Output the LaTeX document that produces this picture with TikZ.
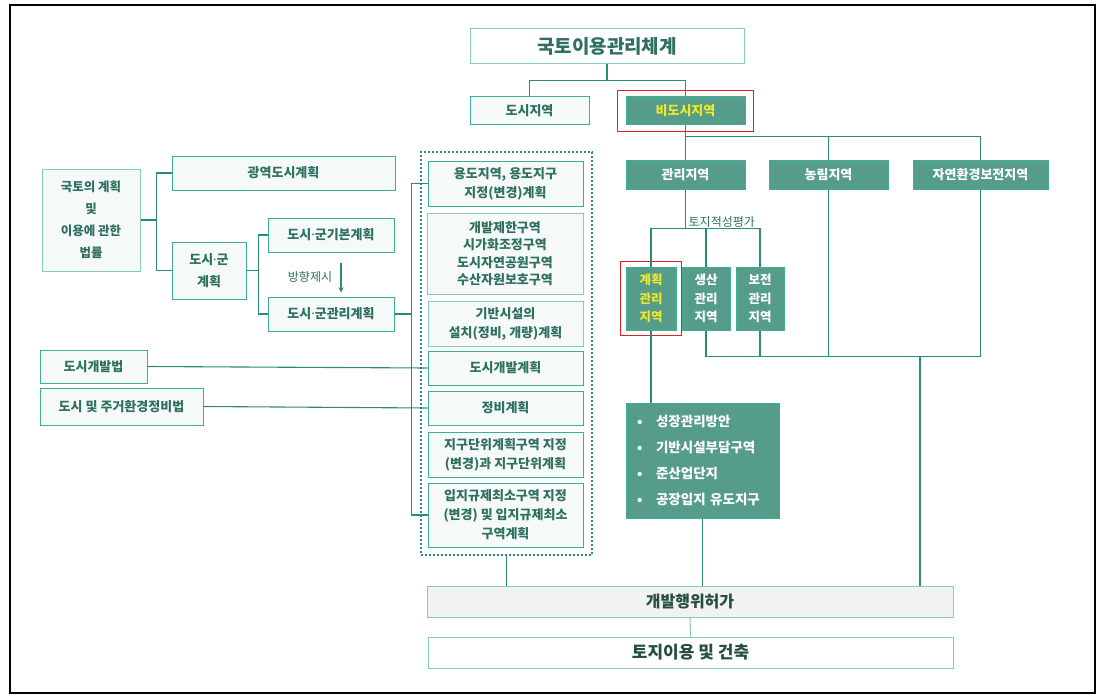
\documentclass[tikz,border=0pt]{standalone}
\usepackage{fontspec}
\setmainfont{Noto Sans CJK KR}
\newfontfamily\latinf{Noto Sans}
\usepackage{tikz}
\usetikzlibrary{arrows,positioning,fit}
\usepackage{xcolor}
\definecolor{kdark}{RGB}{86,156,138}
\definecolor{klight}{RGB}{245,249,248}
\definecolor{kedge}{RGB}{62,174,148}
\definecolor{ksoft}{RGB}{130,205,188}
\definecolor{ktext}{RGB}{47,112,96}
\definecolor{kdeep}{RGB}{38,78,66}
\definecolor{kline}{RGB}{40,140,120}
\definecolor{kgray}{RGB}{242,242,242}
\definecolor{kyellow}{RGB}{240,232,40}
\definecolor{kred}{RGB}{232,30,30}
\newcommand{\mdot}{{\latinf ·}}
\tikzstyle{conn} = [draw=kline, line width=1.1pt]
\tikzstyle{arrow} = [line width=1.3pt,->,>=stealth,color=kline]
\tikzstyle{lightbox} = [draw=kedge, fill=klight, text=ktext, line width=1pt, inner sep=0pt, align=center, font=\bfseries\fontsize{13}{19}\selectfont]
\tikzstyle{darkbox} = [draw=kedge, fill=kdark, text=white, line width=1pt, inner sep=0pt, align=center, font=\bfseries\fontsize{13}{19}\selectfont]
\tikzstyle{redframe} = [draw=kred, line width=1.8pt, inner sep=0pt]
\tikzstyle{lbl} = [text=ktext, inner sep=1pt, font=\fontsize{12}{14}\selectfont]

\begin{document}
\begin{tikzpicture}[x=1pt, y=-1pt]
\useasboundingbox (0,0) rectangle (1100,698);
\draw[black, line width=1.3pt] (10,5) rectangle (1095,693);

% Top of the hierarchy
\node[lightbox, fill=white, draw=ksoft, minimum width=274pt, minimum height=35pt, font=\bfseries\fontsize{19}{22}\selectfont] (title) at (607,46.5) {국토이용관리체계};
\node[lightbox, minimum width=119pt, minimum height=28pt] (dosi) at (529.5,111) {도시지역};
\node[darkbox, text=kyellow, minimum width=119pt, minimum height=28pt] (bidosi) at (685.5,111) {비도시지역};
\node[redframe, fit=(bidosi), inner xsep=8pt, inner ysep=6pt] (bidosiframe) {};

\draw[conn] (title.south) -- ++(0,16) coordinate (tj) -| (dosi.north);
\draw[conn] (tj) -| (bidosi.north);

% Non-urban zones
\node[darkbox, minimum width=119pt, minimum height=29pt] (gwanri) at (685.5,174.5) {관리지역};
\node[darkbox, minimum width=119pt, minimum height=29pt] (nongrim) at (828.5,174.5) {농림지역};
\node[darkbox, minimum width=135pt, minimum height=29pt] (jayeon) at (980.5,174.5) {자연환경보전지역};

\draw[conn] (bidosi.south) -- ++(0,11) coordinate (bj) -| (jayeon.north);
\draw[conn] (bj) -- (gwanri.north);
\draw[conn] (nongrim.north) -- (nongrim.north |- bj);

% Management sub-zones
\node[darkbox, text=kyellow, minimum width=50pt, minimum height=63pt, font=\bfseries\fontsize{12.5}{18.5}\selectfont] (gyehoek) at (651,298.5) {계획\\관리\\지역};
\node[redframe, fit=(gyehoek), inner xsep=5pt, inner ysep=5pt] (gyehoekframe) {};
\node[darkbox, minimum width=48pt, minimum height=63pt, font=\bfseries\fontsize{12.5}{18.5}\selectfont] (saengsan) at (706,298.5) {생산\\관리\\지역};
\node[darkbox, minimum width=48pt, minimum height=63pt, font=\bfseries\fontsize{12.5}{18.5}\selectfont] (bojeon) at (760,298.5) {보전\\관리\\지역};

\draw[conn] (gwanri.south) -- ++(0,39) coordinate (gj);
\draw[conn] (gyehoek.north) |- (gj) -| (bojeon.north);
\draw[conn] (saengsan.north) -- (saengsan.north |- gj);
\node[lbl, anchor=south west] (suitlbl) at ([xshift=2pt]gj) {토지적성평가};

\draw[conn] (saengsan.south) -- ++(0,26) coordinate (sj) -| (jayeon.south);
\draw[conn] (bojeon.south) -- (bojeon.south |- sj);
\draw[conn] (nongrim.south) -- (nongrim.south |- sj);

% Planned management tools
\node[darkbox, align=left, text width=131pt, inner xsep=11pt, minimum height=115pt, font=\bfseries\fontsize{13.5}{26}\selectfont] (bullets) at (702.5,460.5) {\makebox[19pt][l]{•}성장관리방안\\\makebox[19pt][l]{•}기반시설부담구역\\\makebox[19pt][l]{•}준산업단지\\\makebox[19pt][l]{•}공장입지 유도지구};
\draw[conn] (gyehoek.south) -- (gyehoek.south |- bullets.north);

% Urban management plan contents
\node[draw=kline, line width=2.4pt, dash pattern=on 2.4pt off 1.6pt, minimum width=171pt, minimum height=403pt] (zonebox) at (506.5,353.5) {};
\node[lightbox, minimum width=155pt, minimum height=45pt] (yongdo) at (505.5,183.5) {용도지역, 용도지구\\지정(변경)계획};
\node[lightbox, draw=ksoft, minimum width=156pt, minimum height=81pt, font=\bfseries\fontsize{13}{17.5}\selectfont] (gaebal) at (505,253.5) {개발제한구역\\시가화조정구역\\도시자연공원구역\\수산자원보호구역};
\node[lightbox, draw=ksoft, minimum width=155pt, minimum height=45pt] (gibansi) at (505.5,323.5) {기반시설의\\설치(정비, 개량)계획};
\node[lightbox, minimum width=155pt, minimum height=34pt] (dogae) at (505.5,368) {도시개발계획};
\node[lightbox, minimum width=155pt, minimum height=34pt] (jeongbi) at (505.5,408) {정비계획};
\node[lightbox, minimum width=155pt, minimum height=45pt] (jigu) at (505.5,454.5) {지구단위계획구역 지정\\(변경)과 지구단위계획};
\node[lightbox, minimum width=155pt, minimum height=64pt] (ipji) at (505.5,515) {입지규제최소구역 지정\\(변경) 및 입지규제최소\\구역계획};

% Laws and plans on the left
\node[lightbox, draw=ksoft, minimum width=98pt, minimum height=102pt, font=\bfseries\fontsize{12.5}{22}\selectfont] (law) at (91,220) {국토의 계획\\및\\이용에 관한\\법률};
\node[lightbox, minimum width=223pt, minimum height=34pt] (gwangyeok) at (283.5,173) {광역도시계획};
\node[lightbox, minimum width=74pt, minimum height=57pt, font=\bfseries\fontsize{13}{21.5}\selectfont] (dosigun) at (209,270.5) {도시\mdot 군\\계획};
\node[lightbox, minimum width=126pt, minimum height=34pt] (gibon) at (331,235) {도시\mdot 군기본계획};
\node[lightbox, minimum width=126pt, minimum height=34pt] (gwanrigye) at (331,314) {도시\mdot 군관리계획};
\node[lightbox, minimum width=107pt, minimum height=33pt] (devlaw) at (93.5,366.5) {도시개발법};
\node[lightbox, minimum width=163pt, minimum height=37pt] (renlaw) at (121.5,406.5) {도시 및 주거환경정비법};

\draw[conn] (law.east) -- ++(16,0) coordinate (lj);
\draw[conn] (gwangyeok.west) -| (lj) |- (dosigun.west);
\draw[conn] (dosigun.east) -- ++(12,0) coordinate (dj);
\draw[conn] (gibon.west) -| (dj) |- (gwanrigye.west);
\draw[arrow] ([xshift=10pt,yshift=-10pt]gibon.south) -- ([xshift=10pt,yshift=4pt]gwanrigye.north);
\node[lbl] (dirlbl) at (310,277) {방향제시};

% Bus into the plan contents
\draw[conn] (yongdo.west) -- ++(-16,0) coordinate (bus) |- (ipji.west);
\draw[conn] (gwanrigye.east) -- (gwanrigye.east -| bus);
\draw[conn] (devlaw.east) -- (dogae.west);
\draw[conn] (renlaw.east) -- (jeongbi.west);

% Permit and land use
\node[lightbox, fill=kgray, draw=ksoft, text=kdeep, minimum width=526pt, minimum height=31pt, font=\bfseries\fontsize{16}{18}\selectfont] (permit) at (690,601.5) {개발행위허가};
\node[lightbox, fill=white, draw=ksoft, text=kdeep, minimum width=525pt, minimum height=31pt, font=\bfseries\fontsize{17}{18}\selectfont] (landuse) at (690.5,652.5) {토지이용 및 건축};

\coordinate (rj) at (920,356);
\draw[conn] (rj) -- (rj |- permit.north);
\draw[conn] (zonebox.south) -- (zonebox.south |- permit.north);
\draw[conn] (bullets.south) -- (bullets.south |- permit.north);
\draw[conn, draw=ksoft] (permit.south) -- (landuse.north);
\end{tikzpicture}
\end{document}
